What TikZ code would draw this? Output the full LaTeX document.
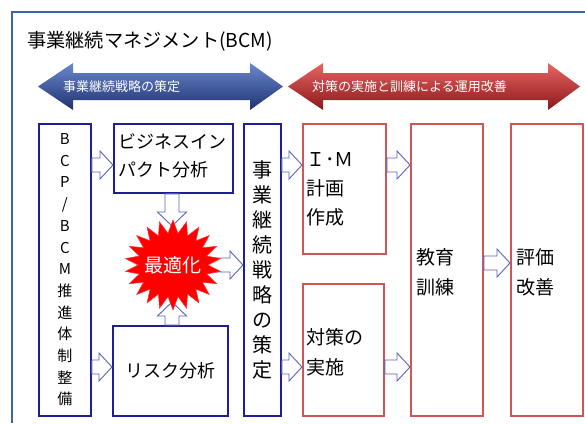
\documentclass[tikz,border=0pt]{standalone}
\usepackage{fontspec}
\setmainfont{Noto Sans CJK JP}
\usetikzlibrary{shapes.symbols,calc}
\definecolor{framec}{HTML}{3E64A8}
\definecolor{navyc}{HTML}{1E1E96}
\definecolor{redc}{HTML}{D05555}
\definecolor{arrc}{HTML}{5A64B4}
\definecolor{bltop}{HTML}{6A88CC}
\definecolor{blmid}{HTML}{3B58A8}
\definecolor{blbot}{HTML}{1F3270}
\definecolor{rdtop}{HTML}{E86464}
\definecolor{rdmid}{HTML}{C83838}
\definecolor{rdbot}{HTML}{8A1818}
\tikzset{
  x=1pt,y=-1pt,
  frame/.style={draw=framec,line width=1.5pt},
  bbox/.style={draw=navyc,line width=1.8pt,fill=white,inner sep=0pt},
  rbox/.style={draw=redc,line width=1.8pt,fill=white,inner sep=0pt},
  barrow/.style={draw=arrc,line width=0.9pt,fill=white,line join=miter},
  lbl/.style={inner sep=0pt,font=\fontsize{19}{29}\selectfont,align=left,anchor=west},
  arrtxt/.style={inner sep=0pt,text=white,font=\fontsize{13}{14}\selectfont,anchor=west},
}
\newcommand\rarr[2]{\draw[barrow] let \p1=#1, \p2=#2 in
  (\x1,\y1+7pt) -- (\x2-13pt,\y1+7pt) -- (\x2-13pt,\y1+14pt) -- (\x2,\y1) --
  (\x2-13pt,\y1-14pt) -- (\x2-13pt,\y1-7pt) -- (\x1,\y1-7pt) -- cycle;}
\newcommand\darr[2]{\draw[barrow] let \p1=#1, \p2=#2 in
  (\x1-7pt,\y1) -- (\x1-7pt,\y2+14pt) -- (\x1-14.5pt,\y2+14pt) -- (\x1,\y2) --
  (\x1+14.5pt,\y2+14pt) -- (\x1+7pt,\y2+14pt) -- (\x1+7pt,\y1) -- cycle;}
\newcommand\uarr[2]{\draw[barrow] let \p1=#1, \p2=#2 in
  (\x1-7pt,\y1) -- (\x1-7pt,\y2-14pt) -- (\x1-14.5pt,\y2-14pt) -- (\x1,\y2) --
  (\x1+14.5pt,\y2-14pt) -- (\x1+7pt,\y2-14pt) -- (\x1+7pt,\y1) -- cycle;}
\begin{document}
\begin{tikzpicture}
\useasboundingbox[fill=white] (0,0) rectangle (585,423);
\draw[frame] (12,423) -- (12,12) -- (585,12);
\node[inner sep=0pt,anchor=west,font=\fontsize{19.2}{20}\selectfont] (title) at (27,41) {事業継続マネジメント(BCM)};
% double arrows
\shade[top color=bltop,middle color=blmid,bottom color=blbot] (38,86.5) -- (73,63) -- (73,73) -- (250,73) -- (250,63) -- (283,86.5) -- (250,110) -- (250,100) -- (73,100) -- (73,110) -- cycle;
\node[arrtxt] (ltxt) at (63,87) {事業継続戦略の策定};
\shade[top color=rdtop,middle color=rdmid,bottom color=rdbot] (288,86.5) -- (323,63) -- (323,73) -- (548,73) -- (548,63) -- (580,86.5) -- (548,110) -- (548,100) -- (323,100) -- (323,110) -- cycle;
\node[arrtxt] (rtxt) at (312,87) {対策の実施と訓練による運用改善};
% boxes
\node[bbox,minimum width=52pt,minimum height=292pt,anchor=north west] (bcp) at (38,123) {};
\node[inner sep=0pt,align=center,font=\fontsize{15}{21.7}\selectfont] at (bcp.center) {B\\C\\P\\/\\B\\C\\M\\推\\進\\体\\制\\整\\備};
\node[bbox,minimum width=119pt,minimum height=69pt,anchor=north west] (bia) at (113,123) {};
\node[lbl,font=\fontsize{18}{28}\selectfont] at (118,156) {ビジネスイン\\パクト分析};
\node[bbox,minimum width=115pt,minimum height=90pt,anchor=north west] (risk) at (112,325) {};
\node[inner sep=0pt,font=\fontsize{18}{28}\selectfont] at (risk.center) {リスク分析};
\node[bbox,minimum width=37pt,minimum height=292pt,anchor=north west] (strat) at (243,123) {};
\node[inner sep=0pt,align=center,font=\fontsize{20}{25}\selectfont] at (strat.center) {事\\業\\継\\続\\戦\\略\\の\\策\\定};
\node[rbox,minimum width=83pt,minimum height=130pt,anchor=north west] (im) at (302,123) {};
\node[lbl] at (306,189) {Ｉ･Ｍ\\計画\\作成};
\node[rbox,minimum width=81pt,minimum height=132pt,anchor=north west] (tai) at (302,283) {};
\node[lbl,font=\fontsize{19}{30}\selectfont] at (306,352) {対策の\\実施};
\node[rbox,minimum width=72pt,minimum height=292pt,anchor=north west] (edu) at (410,123) {};
\node[lbl,font=\fontsize{19}{30}\selectfont] at (416,272) {教育\\訓練};
\node[rbox,minimum width=72pt,minimum height=292pt,anchor=north west] (eval) at (510,123) {};
\node[lbl,font=\fontsize{19}{30}\selectfont] at (516,272) {評価\\改善};
% starburst position
\coordinate (starc) at (173,265);
\coordinate (starN) at (172,226);
\coordinate (starS) at (172,302);
% block arrows
\rarr{(bcp.east |- 0,165)}{(bia.west |- 0,165)}
\rarr{(bcp.east |- 0,367)}{(risk.west |- 0,367)}
\darr{(starN |- bia.south)}{(starN)}
\uarr{(starS |- risk.north)}{(starS)}
\rarr{(starc)}{(strat.west |- starc)}
\rarr{(strat.east |- 0,165)}{(im.west |- 0,165)}
\rarr{(strat.east |- 0,367)}{(tai.west |- 0,367)}
\rarr{(im.east |- 0,165)}{(edu.west |- 0,165)}
\rarr{(tai.east |- 0,367)}{(edu.west |- 0,367)}
\rarr{(edu.east |- 0,263)}{(eval.west |- 0,263)}
% starburst
\node[starburst,starburst points=22,starburst point height=13pt,random starburst=0,
  fill=red,draw=red!80!white,line width=0.5pt,minimum width=96pt,minimum height=90pt,
  inner sep=0pt] (star) at (starc) {};
\node[inner sep=0pt,text=white,font=\fontsize{19}{20}\selectfont] at (star.center) {最適化};
\end{tikzpicture}
\end{document}
